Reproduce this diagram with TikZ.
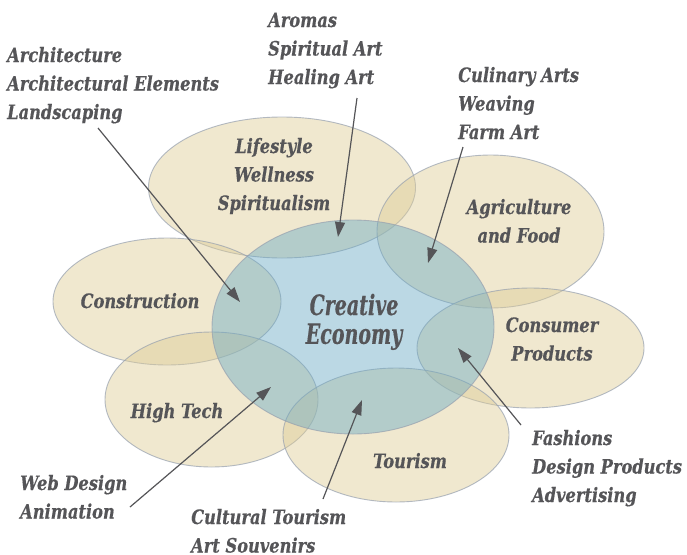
\documentclass[tikz,border=0pt]{standalone}
\usepackage{fontspec}
\usetikzlibrary{shapes.geometric,arrows.meta}
\newfontfamily\lblfont{DejaVu Serif}[FakeStretch=0.82,FakeBold=0.4]
\newfontfamily\hubfont{DejaVu Serif}[FakeStretch=0.68,FakeBold=0.4]
\newcommand\lblstack[2]{\begin{tabular}[t]{@{}#1@{}}#2\end{tabular}}
\definecolor{sand}{RGB}{222,204,150}
\definecolor{sky}{RGB}{106,170,197}
\definecolor{edgecol}{RGB}{150,160,175}
\definecolor{ink}{RGB}{85,85,88}
\begin{document}
\begin{tikzpicture}[x=1pt,y=-1pt,
  sector/.style={ellipse, draw=edgecol, line width=0.9pt, draw opacity=0.7,
                 fill=sand, fill opacity=0.45, inner sep=0pt},
  hub/.style={ellipse, draw=edgecol, line width=0.9pt, draw opacity=0.7,
              fill=sky, fill opacity=0.45, inner sep=0pt},
  caption/.style={font={\lblfont\bfseries\itshape\fontsize{19.8}{28.5}\selectfont},
                  text=ink, inner sep=0pt},
  pointer/.style={draw=ink, line width=1.2pt, -{Triangle[length=15pt,width=10pt]}}]
\useasboundingbox (0,0) rectangle (687,554);
\fill[white] (0,0) rectangle (687,554);

% sector ellipses
\node[sector, minimum width=267pt, minimum height=141pt] (life)  at (282,187.5) {};
\node[sector, minimum width=227pt, minimum height=153pt] (agri)  at (490.5,231.5) {};
\node[sector, minimum width=228pt, minimum height=127pt] (cons)  at (167,301.5) {};
\node[sector, minimum width=227pt, minimum height=120pt] (prod)  at (530.5,348) {};
\node[sector, minimum width=213pt, minimum height=135pt] (tech)  at (211.5,399.5) {};
\node[sector, minimum width=226pt, minimum height=134pt] (tour)  at (396,435) {};

% central ellipse
\node[hub, minimum width=282pt, minimum height=214pt] (eco) at (353,327) {};

% sector names
\node[caption, anchor=base] (lifeT) at (274,153) {\lblstack{c}{Lifestyle\\Wellness\\Spiritualism}};
\node[caption, anchor=base] (agriT) at (519,214) {\lblstack{c}{Agriculture\\and Food}};
\node[caption, anchor=base] (consT) at (140,308) {Construction};
\node[caption, anchor=base] (prodT) at (552,332) {\lblstack{c}{Consumer\\Products}};
\node[caption, anchor=base] (techT) at (177,418) {High Tech};
\node[caption, anchor=base] (tourT) at (410,468) {Tourism};
\node[font={\hubfont\bfseries\itshape\fontsize{28}{28}\selectfont}, text=ink, inner sep=0pt,
      anchor=base] (ecoT) at (354,315) {\lblstack{c}{Creative\\Economy}};

% outside lists
\node[caption, anchor=base west] (archL) at (7,62) {\lblstack{l}{Architecture\\Architectural Elements\\Landscaping}};
\node[caption, anchor=base west] (aromL) at (268,27) {\lblstack{l}{Aromas\\Spiritual Art\\Healing Art}};
\node[caption, anchor=base west] (culiL) at (458,82) {\lblstack{l}{Culinary Arts\\Weaving\\Farm Art}};
\node[caption, anchor=base west] (fashL) at (532,445) {\lblstack{l}{Fashions\\Design Products\\Advertising}};
\node[caption, anchor=base west] (webL)  at (20,490) {\lblstack{l}{Web Design\\Animation}};
\node[caption, anchor=base west] (cultL) at (191,524) {\lblstack{l}{Cultural Tourism\\Art Souvenirs}};

% pointer ends
\coordinate (archS) at (98,128);   \coordinate (archE) at (240,302);
\coordinate (aromS) at (357,98);   \coordinate (aromE) at (338,237);
\coordinate (culiS) at (463,147);  \coordinate (culiE) at (428,263);
\coordinate (fashS) at (521,425);  \coordinate (fashE) at (458,348);
\coordinate (webS)  at (130,507);  \coordinate (webE)  at (271,387);
\coordinate (cultS) at (323,499);  \coordinate (cultE) at (362,400);

\draw[pointer] (archS) -- (archE);
\draw[pointer] (aromS) -- (aromE);
\draw[pointer] (culiS) -- (culiE);
\draw[pointer] (fashS) -- (fashE);
\draw[pointer] (webS)  -- (webE);
\draw[pointer] (cultS) -- (cultE);
\end{tikzpicture}
\end{document}
